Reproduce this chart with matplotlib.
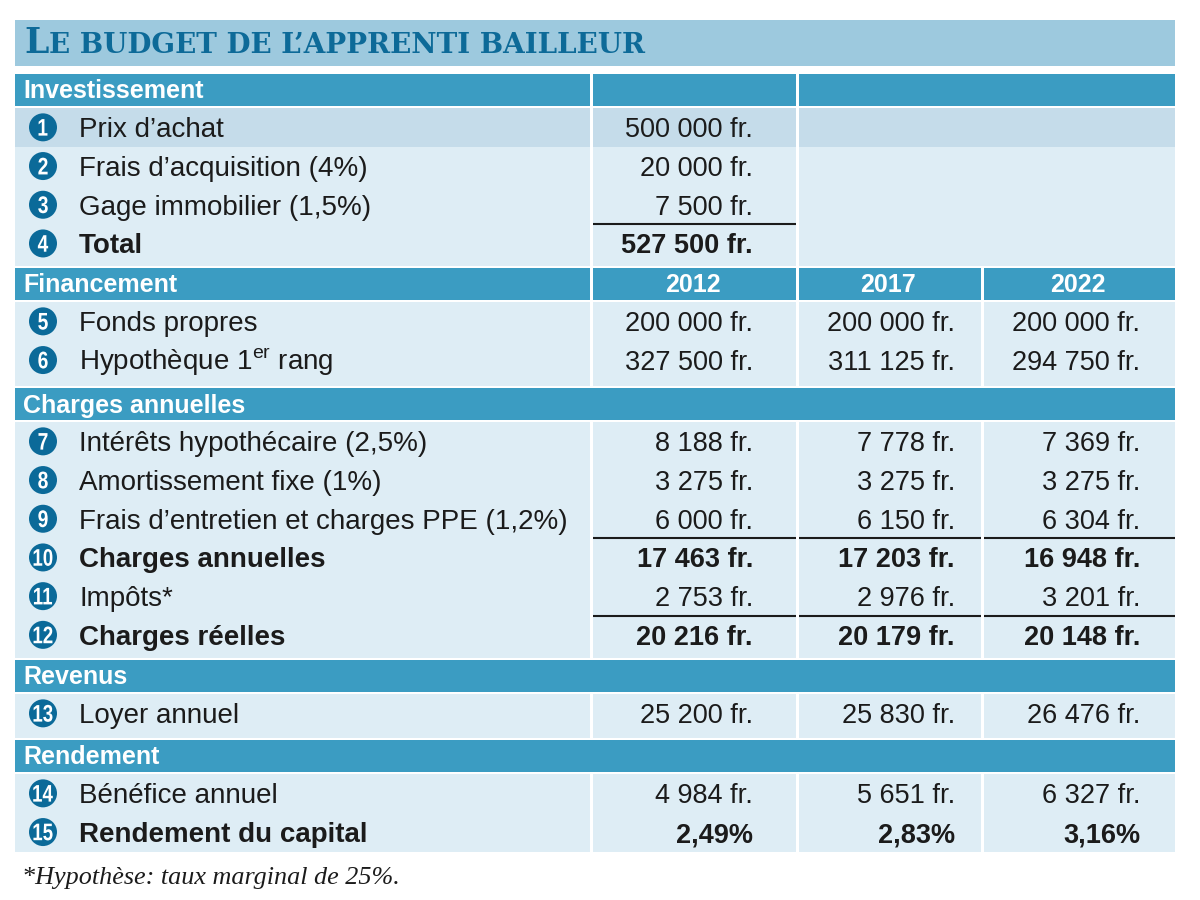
import matplotlib.pyplot as plt
from matplotlib.patches import Rectangle, Circle, PathPatch
from matplotlib.textpath import TextPath
from matplotlib.transforms import Affine2D
from matplotlib.font_manager import FontProperties

SANS = 'Liberation Sans'
SERIF = 'Liberation Serif'
TITLE_FONT = 'DejaVu Serif'

plt.rcParams['mathtext.fontset'] = 'custom'
plt.rcParams['mathtext.rm'] = SANS

# --- data -------------------------------------------------------------
title_first = 'L'
title_rest = 'E BUDGET DE L’APPRENTI BAILLEUR'
footnote = '*Hypothèse: taux marginal de 25%.'
section_names = ['Investissement', 'Financement', 'Charges annuelles', 'Revenus', 'Rendement']
years = ['2012', '2017', '2022']

invest_labels = ['Prix d’achat', 'Frais d’acquisition (4%)', 'Gage immobilier (1,5%)', 'Total']
invest_values = [500000, 20000, 7500, 527500]

fin_labels = ['Fonds propres', 'Hypothèque 1$^{\\mathrm{er}}$ rang']
fonds_propres = [200000, 200000, 200000]
hypotheque = [327500, 311125, 294750]

charge_labels = ['Intérêts hypothécaire (2,5%)', 'Amortissement fixe (1%)',
                 'Frais d’entretien et charges PPE (1,2%)', 'Charges annuelles',
                 'Impôts*', 'Charges réelles']
interets = [8188, 7778, 7369]
amortissement = [3275, 3275, 3275]
entretien = [6000, 6150, 6304]
charges_annuelles = [17463, 17203, 16948]
impots = [2753, 2976, 3201]
charges_reelles = [20216, 20179, 20148]

revenu_labels = ['Loyer annuel']
loyer = [25200, 25830, 26476]

rendement_labels = ['Bénéfice annuel', 'Rendement du capital']
benefice = [4984, 5651, 6327]
rendement = [2.49, 2.83, 3.16]

# --- colours ----------------------------------------------------------
C_TITLE_BG = '#9dc9de'
C_TITLE = '#0d6a98'
C_HEAD = '#3b9cc2'
C_CELL = '#deedf5'
C_HILITE = '#c5dcea'
C_CIRCLE = '#0b6a99'
C_TEXT = '#1b1b1b'


def fr(v):
    return f'{v:,}'.replace(',', ' ') + ' fr.'


def pct(v):
    return f'{v:.2f}'.replace('.', ',') + '%'


# rows: (label, values, bold, rule_above, highlight)
sections = [
    (section_names[0], False, [
        (invest_labels[0], [fr(invest_values[0])], False, False, True),
        (invest_labels[1], [fr(invest_values[1])], False, False, False),
        (invest_labels[2], [fr(invest_values[2])], False, False, False),
        (invest_labels[3], [fr(invest_values[3])], True, True, False),
    ]),
    (section_names[1], True, [
        (fin_labels[0], [fr(v) for v in fonds_propres], False, False, False),
        (fin_labels[1], [fr(v) for v in hypotheque], False, False, False),
    ]),
    (section_names[2], None, [
        (charge_labels[0], [fr(v) for v in interets], False, False, False),
        (charge_labels[1], [fr(v) for v in amortissement], False, False, False),
        (charge_labels[2], [fr(v) for v in entretien], False, False, False),
        (charge_labels[3], [fr(v) for v in charges_annuelles], True, True, False),
        (charge_labels[4], [fr(v) for v in impots], False, False, False),
        (charge_labels[5], [fr(v) for v in charges_reelles], True, True, False),
    ]),
    (section_names[3], None, [
        (revenu_labels[0], [fr(v) for v in loyer], False, False, False),
    ]),
    (section_names[4], None, [
        (rendement_labels[0], [fr(v) for v in benefice], False, False, False),
        (rendement_labels[1], [pct(v) for v in rendement], True, False, False),
    ]),
]

# --- layout (pixels) ---------------------------------------------------
X0, X1 = 15, 1175
cols = [(15, 590), (593, 796), (799, 981), (984, 1175)]
val_right = [753, 955, 1140]
section_tops = [74, 268, 388, 660, 740]
TABLE_BOTTOM = 852
HEAD_H = 32
ROW_H = 38.7
CIRCLE_X = 43

fig = plt.figure(figsize=(12, 9), dpi=100)
ax = fig.add_axes([0, 0, 1, 1])
ax.set_xlim(0, 1200)
ax.set_ylim(900, 0)
ax.axis('off')

num_font = FontProperties(family=SANS, weight='bold')


def circled_number(n, cx, cy):
    ax.add_patch(Circle((cx, cy), 14, color=C_CIRCLE, lw=0))
    tp = TextPath((0, 0), str(n), size=24, prop=num_font)
    ext = tp.get_extents()
    sx = 0.8 if n < 10 else 0.78
    tr = (Affine2D().translate(-ext.x0 - ext.width / 2, -ext.y0 - ext.height / 2)
          .scale(sx, -1).translate(cx, cy))
    ax.add_patch(PathPatch(tr.transform_path(tp), color='white', lw=0))


# title band
ax.add_patch(Rectangle((X0, 20), X1 - X0, 46, color=C_TITLE_BG, lw=0))
t1 = ax.text(24, 53, title_first, family=TITLE_FONT, weight='bold', fontsize=25,
             color=C_TITLE, va='baseline')
fig.canvas.draw()
bb = t1.get_window_extent()
xr = ax.transData.inverted().transform((bb.x1, bb.y0))[0]
ax.text(xr + 0.5, 53, title_rest, family=TITLE_FONT, weight='bold', fontsize=20,
        color=C_TITLE, va='baseline')

num = 0
for s, (name, mode, rows) in enumerate(sections):
    top = section_tops[s]
    nxt = section_tops[s + 1] - 2 if s + 1 < len(section_tops) else TABLE_BOTTOM
    body_top = top + HEAD_H + 2

    # header band
    if mode is False:
        spans = [cols[0], cols[1], (cols[2][0], cols[3][1])]
    elif mode is True:
        spans = cols
    else:
        spans = [(X0, X1)]
    for a, b in spans:
        ax.add_patch(Rectangle((a, top), b - a, HEAD_H, color=C_HEAD, lw=0))
    ax.text(23, top + HEAD_H / 2 + 8.5, name, family=SANS, weight='bold',
            fontsize=18, color='white', va='baseline')
    if mode is True:
        for k, yr in enumerate(years):
            a, b = cols[k + 1]
            ax.text((a + b) / 2 - 2, top + HEAD_H / 2 + 8.5, yr, family=SANS,
                    weight='bold', fontsize=18, color='white',
                    ha='center', va='baseline')

    # body cells
    body_spans = [cols[0], cols[1], (cols[2][0], cols[3][1])] if mode is False else cols
    for a, b in body_spans:
        ax.add_patch(Rectangle((a, body_top), b - a, nxt - body_top, color=C_CELL, lw=0))

    for i, (label, vals, bold, rule, hl) in enumerate(rows):
        num += 1
        rtop = body_top + i * ROW_H
        cy = rtop + ROW_H / 2
        if hl:
            for a, b in body_spans:
                ax.add_patch(Rectangle((a, rtop), b - a, ROW_H, color=C_HILITE, lw=0))
        if rule:
            for k in range(len(vals)):
                a, b = cols[k + 1]
                ax.plot([a, b], [rtop, rtop], color=C_TEXT, lw=1.5,
                        solid_capstyle='butt')
        circled_number(num, CIRCLE_X, cy)
        w = 'bold' if bold else 'normal'
        ax.text(79, cy + 10, label, family=SANS, weight=w, fontsize=20,
                color=C_TEXT, va='baseline')
        for k, v in enumerate(vals):
            ax.text(val_right[k], cy + 10, v, family=SANS, weight=w,
                    fontsize=19.5, color=C_TEXT, ha='right', va='baseline')

ax.text(22, 884, footnote, family=SERIF, style='italic', fontsize=18.8,
        color=C_TEXT, va='baseline')

fig.savefig('out.png', dpi=100, facecolor='white')
